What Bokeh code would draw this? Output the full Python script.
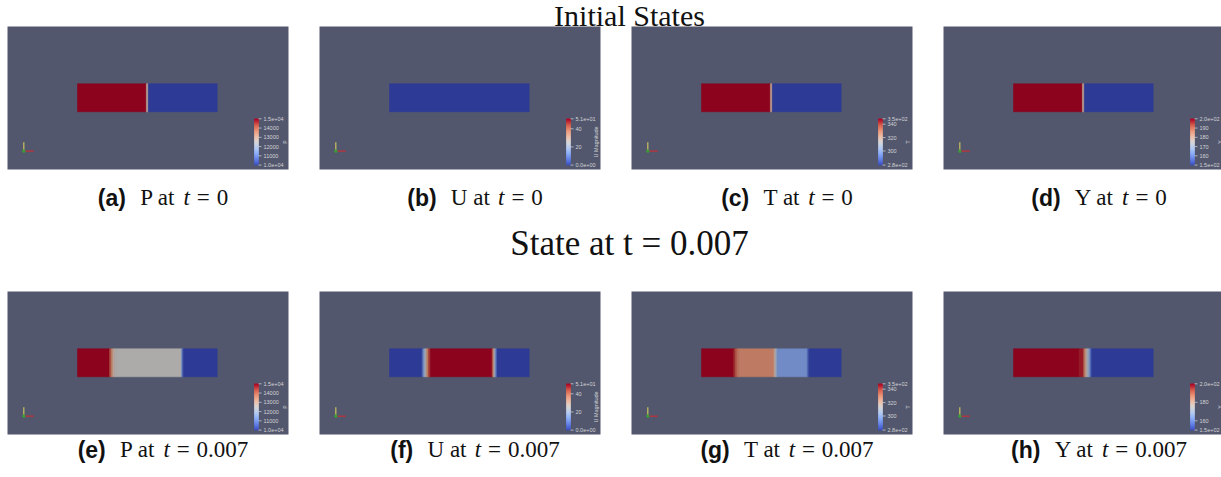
import numpy as np
from bokeh.plotting import figure
from bokeh.models import Range1d, ColumnDataSource
from bokeh.transform import linear_cmap
from bokeh.core.properties import value
from bokeh.embed import file_html
from bokeh.resources import INLINE

# ---------------------------------------------------------------------------
# Field data along the shock tube (s = 0 left end, s = 1 right end).
# Each field is given as cell edges and the value held in each cell.
# ---------------------------------------------------------------------------
P0_edges = [0.0, 0.493, 0.507, 1.0]
P0_vals = [15000, 12900, 10000]
U0_edges = [0.0, 1.0]
U0_vals = [0.0]
T0_edges = [0.0, 0.493, 0.507, 1.0]
T0_vals = [348, 322, 279]
Y0_edges = [0.0, 0.493, 0.507, 1.0]
Y0_vals = [200, 180, 150]

P1_edges = [0.0, 0.229, 0.241, 0.253, 0.265, 0.277, 0.744, 0.752, 0.760, 1.0]
P1_vals = [15000, 14400, 13600, 12900, 12600, 12500, 11400, 10500, 10000]
U1_edges = [0.0, 0.234, 0.245, 0.256, 0.267, 0.280, 0.293, 0.735, 0.745,
            0.753, 0.761, 0.770, 1.0]
U1_vals = [0, 8, 18, 27, 38, 46, 51, 42, 30, 20, 8, 0]
T1_edges = [0.0, 0.231, 0.243, 0.255, 0.267, 0.518, 0.527, 0.536, 0.545,
            0.757, 0.765, 0.773, 1.0]
T1_vals = [348, 343, 337, 332, 330, 322, 313, 303, 297, 290, 283, 279]
Y1_edges = [0.0, 0.470, 0.500, 0.510, 0.520, 0.530, 0.540, 0.550, 0.560, 1.0]
Y1_vals = [200, 198, 192, 184, 177, 172, 165, 156, 150]

# colour-bar ranges, ticks and labels
P_range = (10000, 15000)
P_ticks = [15000, 14000, 13000, 12000, 11000, 10000]
P_labels = ["1.5e+04", "14000", "13000", "12000", "11000", "1.0e+04"]
U_range = (0, 51)
U_ticks = [51, 40, 20, 0]
U_labels = ["5.1e+01", "40", "20", "0.0e+00"]
T_range = (279, 348)
T_ticks = [348, 340, 320, 300, 279]
T_labels = ["3.5e+02", "340", "320", "300", "2.8e+02"]
Y_range = (150, 200)
Y0_ticks = [200, 190, 180, 170, 160, 150]
Y0_labels = ["2.0e+02", "190", "180", "170", "160", "1.5e+02"]
Y1_ticks = [200, 180, 160, 150]
Y1_labels = ["2.0e+02", "180", "160", "1.5e+02"]

captions_top = [("(a)", "P", "0"), ("(b)", "U", "0"), ("(c)", "T", "0"), ("(d)", "Y", "0")]
captions_bot = [("(e)", "P", "0.007"), ("(f)", "U", "0.007"), ("(g)", "T", "0.007"), ("(h)", "Y", "0.007")]

# ---------------------------------------------------------------------------
# Page layout (px from the page's top-left corner) and styling
# ---------------------------------------------------------------------------
PAGE_W, PAGE_H = 1221, 477
PANEL_W, PANEL_H = 281, 143
PANEL_X = [7, 319, 631, 943]
PANEL_Y = [26, 291]
BG = "#52576e"
SERIF = "Liberation Serif"
SANS = "Liberation Sans"
INK = "#111111"

TUBE_PX = (70.0, 209.7)          # tube ends, px from panel left
TUBE_CY = 71.3                   # tube centre, px from panel top
TUBE_H = 0.2                     # tube height / tube length
CB_X = (247.0, 251.0)            # colour bar, px from panel left
CB_LO_PX, CB_HI_PX = 4.4, 50.7   # colour-bar ends, px above panel bottom

COOLWARM = [(59, 76, 192), (98, 130, 234), (141, 176, 254), (184, 208, 249),
            (221, 220, 219), (245, 196, 173), (244, 154, 123), (222, 96, 77),
            (180, 4, 38)]


def ramp(shade, n=256):
    a = np.array(COOLWARM, float)
    t = np.linspace(0, 1, n)
    pos = np.linspace(0, 1, len(a))
    ch = [np.clip(np.interp(t, pos, a[:, k]) * shade, 0, 255) for k in range(3)]
    return ["#%02x%02x%02x" % (int(round(ch[0][i])), int(round(ch[1][i])), int(round(ch[2][i])))
            for i in range(n)]


RAW = ramp(1.0)      # colour bar
LIT = ramp(0.78)     # shaded tube surface

p = figure(width=PAGE_W, height=PAGE_H, x_range=Range1d(0, PAGE_W), y_range=Range1d(PAGE_H, 0),
           toolbar_location=None, output_backend="svg", min_border=0,
           x_axis_location=None, y_axis_location=None,
           background_fill_color="white", border_fill_color="white", outline_line_color=None)
p.grid.visible = False

# render-view backgrounds
bx = [x for _ in PANEL_Y for x in PANEL_X]
by = [y for y in PANEL_Y for _ in PANEL_X]
p.quad(left=bx, right=[x + PANEL_W for x in bx], top=by, bottom=[y + PANEL_H for y in by],
       fill_color=BG, line_color=None)


def panel(name, ox, oy, edges, vals, vrange, ticks, labels, title):
    scale = TUBE_PX[1] - TUBE_PX[0]
    # tube coordinates for this view, spread over the whole page
    sx0 = ox + TUBE_PX[0]
    sy = oy + TUBE_CY
    p.extra_x_ranges[name + "_s"] = Range1d(-sx0 / scale, (PAGE_W - sx0) / scale)
    p.extra_y_ranges[name + "_h"] = Range1d(TUBE_H / 2 - (PAGE_H - sy) / scale,
                                            TUBE_H / 2 + sy / scale)
    # colour-bar value axis for this view
    lo, hi = vrange
    per_px = (hi - lo) / (CB_HI_PX - CB_LO_PX)
    ylo = oy + PANEL_H - CB_LO_PX
    p.extra_y_ranges[name + "_v"] = Range1d(lo - (PAGE_H - ylo) * per_px, lo + ylo * per_px)

    src = ColumnDataSource(dict(left=edges[:-1], right=edges[1:], v=vals))
    cmap = linear_cmap("v", LIT, lo, hi)
    p.quad(left="left", right="right", bottom=0, top=TUBE_H, source=src,
           x_range_name=name + "_s", y_range_name=name + "_h",
           fill_color=cmap, line_color=cmap, line_width=0.6)

    steps = np.linspace(lo, hi, 65)
    cbs = ColumnDataSource(dict(b=steps[:-1], t=steps[1:], v=(steps[:-1] + steps[1:]) / 2))
    cm2 = linear_cmap("v", RAW, lo, hi)
    p.quad(left=ox + CB_X[0], right=ox + CB_X[1], bottom="b", top="t", source=cbs,
           y_range_name=name + "_v", fill_color=cm2, line_color=cm2, line_width=0.5)
    p.segment(x0=ox + CB_X[1], x1=ox + CB_X[1] + 3, y0=ticks, y1=ticks,
              y_range_name=name + "_v", line_color="#c9c9c9", line_width=0.8)
    p.text(x=ox + CB_X[1] + 5, y=ticks, text=labels, y_range_name=name + "_v",
           text_font=value(SANS), text_font_size="5.5px", text_color="#d4d4d4",
           text_baseline="middle", text_align="left")
    p.text(x=[ox + 276], y=[(lo + hi) / 2], text=[title], angle=np.pi / 2,
           y_range_name=name + "_v", text_font=value(SANS),
           text_font_size="5.5px", text_color="#d4d4d4",
           text_baseline="middle", text_align="center")

    # orientation triad
    p.segment(x0=[ox + 16.3], y0=[oy + 115.7], x1=[ox + 16.3], y1=[oy + 124.7],
              line_color="#c8c25a", line_width=1.2)
    p.segment(x0=[ox + 16.3], y0=[oy + 124.7], x1=[ox + 26.3], y1=[oy + 124.7],
              line_color="#c0303a", line_width=1.2)
    p.scatter(x=[ox + 16.3], y=[oy + 124.7], size=2.5, color="#3a9a3a")


views = [
    ("a", P0_edges, P0_vals, P_range, P_ticks, P_labels, "p"),
    ("b", U0_edges, U0_vals, U_range, U_ticks, U_labels, "U Magnitude"),
    ("c", T0_edges, T0_vals, T_range, T_ticks, T_labels, "T"),
    ("d", Y0_edges, Y0_vals, Y_range, Y0_ticks, Y0_labels, "Y"),
    ("e", P1_edges, P1_vals, P_range, P_ticks, P_labels, "p"),
    ("f", U1_edges, U1_vals, U_range, U_ticks, U_labels, "U Magnitude"),
    ("g", T1_edges, T1_vals, T_range, T_ticks, T_labels, "T"),
    ("h", Y1_edges, Y1_vals, Y_range, Y1_ticks, Y1_labels, "Y"),
]
for i, v in enumerate(views):
    panel(v[0], PANEL_X[i % 4], PANEL_Y[i // 4], *v[1:])

# ---------------------------------------------------------------------------
# Headings and sub-captions
# ---------------------------------------------------------------------------
W_SERIF = {' ': 0.25, 'a': 0.444, 't': 0.278, '=': 0.564, '0': 0.5, '.': 0.25, '7': 0.5,
           'P': 0.556, 'U': 0.722, 'T': 0.611, 'Y': 0.722}
W_BOLD = {'(': 0.333, ')': 0.333, 'a': 0.556, 'b': 0.611, 'c': 0.556, 'd': 0.611,
          'e': 0.556, 'f': 0.333, 'g': 0.611, 'h': 0.611}
CAP_FS = 23


def width(txt, table):
    return sum(table.get(c, 0.5) for c in txt) * CAP_FS


def captions(specs, ymid):
    for k, (lab, var, tval) in enumerate(specs):
        cx = 162.5 + 312 * k
        parts = [(lab, SANS, "bold", width(lab, W_BOLD)), (None, 0.62),
                 (var + " at", SERIF, "normal", width(var + " at", W_SERIF)), (None, 0.36),
                 ("t", SERIF, "italic", width("t", W_SERIF)), (None, 0.3),
                 ("=", SERIF, "normal", width("=", W_SERIF)), (None, 0.3),
                 (tval, SERIF, "normal", width(tval, W_SERIF))]
        total = sum(q[3] if q[0] is not None else q[1] * CAP_FS for q in parts)
        x = cx - total / 2
        for q in parts:
            if q[0] is None:
                x += q[1] * CAP_FS
                continue
            p.text(x=[x], y=[ymid], text=[q[0]], text_font=value(q[1]),
                   text_font_style=q[2], text_font_size=f"{CAP_FS}px", text_color=INK,
                   text_align="left", text_baseline="middle")
            x += q[3]


p.text(x=[629], y=[15], text=["Initial States"], text_font=value(SERIF),
       text_font_size="30px", text_color=INK, text_align="center", text_baseline="middle")
captions(captions_top, 197)
captions(captions_bot, 449)
p.text(x=[629], y=[243], text=["State at t = 0.007"], text_font=value(SERIF),
       text_font_size="35px", text_color=INK, text_align="center", text_baseline="middle")

open("out.html", "w").write(file_html(p, INLINE))
